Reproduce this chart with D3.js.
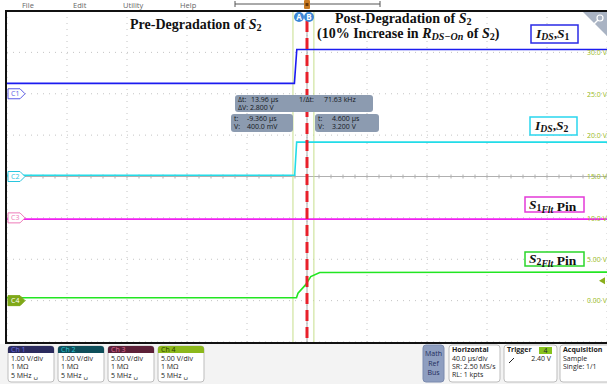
<html lang="en">
<head>
  <meta charset="utf-8">
  <title>Scope capture</title>
  <script src="https://d3js.org/d3.v7.min.js"></script>
  <style>
    body { margin: 0; background: #fff; }
    svg text { font-family: "Open Sans", "DejaVu Sans", sans-serif; }
    .tex { font-family: "Liberation Serif", "DejaVu Serif", serif; font-weight: bold; fill: #111; }
  </style>
</head>
<body>
<svg id="canvas"></svg>
<script>

// ********************************************************************** //
// Data (read off the capture)

var channels    = ['Ch 1', 'Ch 2', 'Ch 3', 'Ch 4'];
var markers     = ['C1', 'C2', 'C3', 'C4'];
var voltsPerDiv = [1, 1, 5, 5];
var offsetDiv   = [2, 0, -1, -3];
var colors      = ['#1c1cf0', '#22dce8', '#f020f0', '#22e622'];

var ch1Time  = [-200, -8.4, -6.8, 200];
var ch1Volts = [0.25, 0.25, 1.07, 1.07];
var ch2Time  = [-200, -8.2, -6.9, 200];
var ch2Volts = [0.03, 0.03, 0.83, 0.83];
var ch3Time  = [-200, 200];
var ch3Volts = [-0.15, -0.15];
var ch4Time  = [-200, -7, -6, -1, 2.5, 8.5, 200];
var ch4Volts = [0.35, 0.35, 0.9, 1.9, 2.9, 3.4, 3.45];

var rightTicks = [0, 5, 10, 15, 20, 25, 30];
var triggerLevel = 2.40;
var cursorA = -9.36, cursorB = 4.60;

var menuItems = ['File', 'Edit', 'Utility', 'Help'];
var chLines = [['1.00 V/div', '1 MΩ', '5 MHz ␣'], ['1.00 V/div', '1 MΩ', '5 MHz ␣'],
               ['5.00 V/div', '1 MΩ', '5 MHz ␣'], ['5.00 V/div', '1 MΩ', '5 MHz ␣']];

// ********************************************************************** //
// Layout

var W = 607, H = 384;
var pLeft = 7, pRight = 607, pTop = 11, pBottom = 342;
var svg = d3.select('#canvas').attr('width', W).attr('height', H);

var x = d3.scaleLinear().domain([-200, 200]).range([pLeft, pRight]);
var yDiv = d3.scaleLinear().domain([-4, 4]).range([pBottom, pTop]);
function chY(i){ return function(v){ return yDiv(offsetDiv[i] + v / voltsPerDiv[i]); }; }

// menu strip
var menuX = [22, 73, 123, 180];
svg.selectAll('.menu').data(menuItems).enter().append('text')
  .attr('x', (d, i) => menuX[i]).attr('y', 8).text(d => d)
  .style('font-size', '7.5px').style('fill', '#666');
svg.append('line').attr('x1', 235).attr('x2', 380).attr('y1', 4).attr('y2', 4).attr('stroke', '#555').attr('stroke-width', 1);
[235, 380].forEach(px => svg.append('line').attr('x1', px).attr('x2', px).attr('y1', 1).attr('y2', 7).attr('stroke', '#555'));
svg.append('rect').attr('x', x(0) - 3).attr('y', 0).attr('width', 6).attr('height', 9).attr('rx', 1).attr('fill', '#c87a22');
svg.append('rect').attr('x', x(0) - 1.5).attr('y', 3).attr('width', 3).attr('height', 3).attr('fill', '#6a3a0a');

// graticule
var grid = svg.append('g');
grid.selectAll('.vg').data(d3.range(-200, 201, 40)).enter().append('line')
  .attr('x1', d => x(d)).attr('x2', d => x(d)).attr('y1', pTop).attr('y2', pBottom)
  .attr('stroke', '#c4c4c4').attr('stroke-dasharray', '1,5');
grid.selectAll('.hg').data(d3.range(-4, 5, 1)).enter().append('line')
  .attr('x1', pLeft).attr('x2', pRight).attr('y1', d => yDiv(d)).attr('y2', d => yDiv(d))
  .attr('stroke', '#c4c4c4').attr('stroke-dasharray', '1,5');
grid.append('line').attr('x1', pLeft).attr('x2', pRight).attr('y1', yDiv(0)).attr('y2', yDiv(0)).attr('stroke', '#b0b0b0');
grid.selectAll('.ht').data(d3.range(-200, 201, 8)).enter().append('line')
  .attr('x1', d => x(d)).attr('x2', d => x(d)).attr('y1', yDiv(0) - 2).attr('y2', yDiv(0) + 2).attr('stroke', '#b0b0b0');
grid.append('line').attr('x1', x(0)).attr('x2', x(0)).attr('y1', pTop).attr('y2', pBottom).attr('stroke', '#a8a8a8');

// cursors
[cursorA, cursorB].forEach(t => svg.append('line')
  .attr('x1', x(t)).attr('x2', x(t)).attr('y1', pTop).attr('y2', pBottom)
  .attr('stroke', '#c6df8c').attr('stroke-width', 1));

// traces
var traces = [[ch1Time, ch1Volts], [ch2Time, ch2Volts], [ch3Time, ch3Volts], [ch4Time, ch4Volts]];
traces.forEach((tr, i) => {
  var pts = tr[0].map((t, k) => [t, tr[1][k]]);
  var line = d3.line().x(d => x(d[0])).y(d => chY(i)(d[1]));
  svg.append('path').attr('d', line(pts)).attr('fill', 'none')
    .attr('stroke', colors[i]).attr('stroke-width', 1.6);
});

// trigger (red dashed) line
svg.append('line').attr('x1', x(0)).attr('x2', x(0)).attr('y1', pTop + 10).attr('y2', pBottom)
  .attr('stroke', '#e8202a').attr('stroke-width', 3).attr('stroke-dasharray', '11,6');

// A / B badges
[['A', 299], ['B', 309]].forEach(d => {
  svg.append('circle').attr('cx', d[1]).attr('cy', 17).attr('r', 5).attr('fill', '#3b87d6');
  svg.append('text').attr('x', d[1]).attr('y', 19.8).attr('text-anchor', 'middle').text(d[0])
    .style('font-size', '8px').style('font-weight', 'bold').style('fill', '#fff');
});

// frame
svg.append('line').attr('x1', 5).attr('x2', W).attr('y1', pTop).attr('y2', pTop).attr('stroke', '#111').attr('stroke-width', 2);
svg.append('line').attr('x1', 5).attr('x2', W).attr('y1', pBottom + 1).attr('y2', pBottom + 1).attr('stroke', '#111').attr('stroke-width', 2);
svg.append('line').attr('x1', 6).attr('x2', 6).attr('y1', pTop - 1).attr('y2', pBottom + 2).attr('stroke', '#111').attr('stroke-width', 2);

// zoom corner
svg.append('path').attr('d', 'M583,12 L607,12 L607,36 Z').attr('fill', '#a9b3c3');
svg.append('circle').attr('cx', 600).attr('cy', 18).attr('r', 3).attr('fill', 'none').attr('stroke', '#fff').attr('stroke-width', 1.2);
svg.append('line').attr('x1', 598).attr('y1', 20).attr('x2', 594).attr('y2', 24).attr('stroke', '#fff').attr('stroke-width', 1.5);

// channel markers
markers.forEach((m, i) => {
  var yy = yDiv(offsetDiv[i]);
  var filled = i === 3;
  var c = ['#5a5ae6', '#2ac6de', '#ee7ab8', '#7fa818'][i];
  svg.append('path').attr('d', 'M8,' + (yy - 5) + ' L20,' + (yy - 5) + ' L25,' + yy + ' L20,' + (yy + 5) + ' L8,' + (yy + 5) + ' Z')
    .attr('fill', filled ? c : '#fff').attr('stroke', c).attr('stroke-width', 1);
  svg.append('text').attr('x', 11).attr('y', yy + 2.6).text(m)
    .style('font-size', '7px').style('fill', filled ? '#fff' : c);
});

// ch4 scale labels on right
var ch4Scale = d3.scaleLinear().domain([-5, 35]).range([pBottom, pTop]);
var rAxis = svg.append('g').attr('transform', 'translate(585,0)')
  .call(d3.axisRight(ch4Scale).tickValues(rightTicks).tickSize(0).tickPadding(2)
    .tickFormat(v => (v < 10 ? v.toFixed(2) : v.toFixed(1)) + ' V'));
rAxis.select('.domain').remove();
rAxis.selectAll('text').style('font-size', '7px').style('fill', '#9cbc24').style('font-family', '"Open Sans", sans-serif');
svg.append('path').attr('d', 'M599,' + ch4Scale(triggerLevel) + ' l6,-3.5 l0,7 Z').attr('fill', '#8aae1c');

// cursor readouts
function readout(x0, y0, w, h){
  svg.append('rect').attr('x', x0).attr('y', y0).attr('width', w).attr('height', h).attr('rx', 3).attr('fill', '#8c9bb0');
}
function rtext(px, py, s){
  svg.append('text').attr('x', px).attr('y', py).text(s).style('font-size', '7px').style('fill', '#141820');
}
readout(235, 95, 138, 17);
rtext(238, 102, 'Δt:'); rtext(251, 102, '13.96 µs'); rtext(299, 102, '1/Δt:'); rtext(324, 102, '71.63 kHz');
rtext(238, 109.5, 'ΔV: 2.800 V');
readout(231, 114, 62, 18);
rtext(234, 121, 't:'); rtext(247, 121, '-9.360 µs');
rtext(234, 129, 'V:'); rtext(247, 129, '400.0 mV');
readout(315, 114, 64, 18);
rtext(318, 121, 't:'); rtext(332, 121, '4.600 µs');
rtext(318, 129, 'V:'); rtext(332, 129, '3.200 V');

// annotations
function tex(px, py, size, parts){
  var t = svg.append('text').attr('class', 'tex').attr('x', px).attr('y', py).style('font-size', size + 'px');
  parts.forEach(p => {
    var s = t.append('tspan').text(p[0]);
    if (p[1] === 'i') s.style('font-style', 'italic');
    if (p[1] === 'sub') s.style('font-size', (size * 0.72) + 'px').attr('dy', size * 0.16);
    if (p[1] === 'isub') s.style('font-size', (size * 0.72) + 'px').style('font-style', 'italic').attr('dy', size * 0.16);
    if (p[2]) s.attr('dy', p[2]);
  });
  return t;
}
tex(130, 29, 14, [['Pre-Degradation of '], ['S', 'i'], ['2', 'sub']]);
tex(335, 22.5, 14, [['Post-Degradation of '], ['S', 'i'], ['2', 'sub']]);
tex(317, 38, 14, [['(10% Increase in '], ['R', 'i'], ['DS−On', 'isub'], [' of ', null, -14 * 0.16], ['S', 'i'], ['2', 'sub'], [')', null, -14 * 0.16]]);

function box(x0, y0, w, h, c){
  svg.append('rect').attr('x', x0).attr('y', y0).attr('width', w).attr('height', h)
    .attr('fill', '#fff').attr('stroke', c).attr('stroke-width', 1.5);
}
box(531, 25, 47, 18, '#2a2ae6');
tex(536, 38, 13.5, [['I', 'i'], ['DS', 'isub'], [',', null, -13.5 * 0.16], ['S', 'i'], ['1', 'sub']]);
box(530, 117, 47, 18, '#2ad6ee');
tex(535, 130, 13.5, [['I', 'i'], ['DS', 'isub'], [',', null, -13.5 * 0.16], ['S', 'i'], ['2', 'sub']]);
box(525, 197, 59, 15, '#e43ad8');
tex(529, 208.5, 13.5, [['S', 'i'], ['1', 'sub'], ['Flt', 'isub'], [' Pin', null, -13.5 * 0.16]]);
box(525, 252, 59, 14, '#2ad62a');
tex(529, 263, 13.5, [['S', 'i'], ['2', 'sub'], ['Flt', 'isub'], [' Pin', null, -13.5 * 0.16]]);

// ********************************************************************** //
// status bar

svg.append('rect').attr('x', 0).attr('y', pBottom + 2).attr('width', W).attr('height', H - pBottom - 2).attr('fill', '#f3f3f3');
var hdrFill = ['#2b2b5e', '#0e4e5a', '#5c2038', '#8cb81c'];
var hdrText = ['#6c6ce0', '#2ec6d6', '#e07098', '#2a3a00'];
channels.forEach((c, i) => {
  var bx = 8 + i * 50;
  svg.append('rect').attr('x', bx).attr('y', 346).attr('width', 46).attr('height', 36).attr('rx', 3)
    .attr('fill', '#fff').attr('stroke', '#bdbdbd');
  svg.append('path').attr('d', 'M' + bx + ',353 L' + bx + ',349 Q' + bx + ',346 ' + (bx + 3) + ',346 L' + (bx + 43) + ',346 Q' + (bx + 46) + ',346 ' + (bx + 46) + ',349 L' + (bx + 46) + ',353 Z')
    .attr('fill', hdrFill[i]);
  svg.append('text').attr('x', bx + 3).attr('y', 352).text(c).style('font-size', '7px').style('fill', hdrText[i]);
  chLines[i].forEach((s, k) => svg.append('text').attr('x', bx + 3).attr('y', 361 + k * 8.3).text(s)
    .style('font-size', '7px').style('fill', '#222'));
});

svg.append('rect').attr('x', 423).attr('y', 345).attr('width', 21).attr('height', 37).attr('rx', 3).attr('fill', '#8e9ec0').attr('stroke', '#7a8aae');
['Math', 'Ref', 'Bus'].forEach((s, k) => svg.append('text').attr('x', 433.5).attr('y', 356 + k * 9.5)
  .attr('text-anchor', 'middle').text(s).style('font-size', '7px').style('fill', '#1f2d5c'));

function panel(x0, w, title, lines){
  svg.append('rect').attr('x', x0).attr('y', 345).attr('width', w).attr('height', 37).attr('rx', 3)
    .attr('fill', '#fff').attr('stroke', '#bdbdbd');
  svg.append('text').attr('x', x0 + 3).attr('y', 352).text(title).style('font-size', '7px').style('font-weight', 'bold').style('fill', '#222');
  lines.forEach((s, k) => svg.append('text').attr('x', x0 + 3).attr('y', 360.5 + k * 8.3).text(s).style('font-size', '7px').style('fill', '#222'));
}
panel(449, 51, 'Horizontal', ['40.0 µs/div', 'SR: 2.50 MS/s', 'RL: 1 kpts']);
panel(504, 53, 'Trigger', []);
svg.append('rect').attr('x', 539).attr('y', 347).attr('width', 13).attr('height', 7).attr('fill', '#86c21c');
svg.append('text').attr('x', 545.5).attr('y', 353).attr('text-anchor', 'middle').text('4').style('font-size', '7px').style('fill', '#223');
svg.append('line').attr('x1', 509).attr('y1', 363).attr('x2', 514).attr('y2', 358).attr('stroke', '#222');
svg.append('text').attr('x', 551).attr('y', 360.5).attr('text-anchor', 'end').text(triggerLevel.toFixed(2) + ' V').style('font-size', '7px').style('fill', '#222');
panel(560, 52, 'Acquisition', ['Sample', 'Single: 1/1']);

</script>
</body>
</html>
